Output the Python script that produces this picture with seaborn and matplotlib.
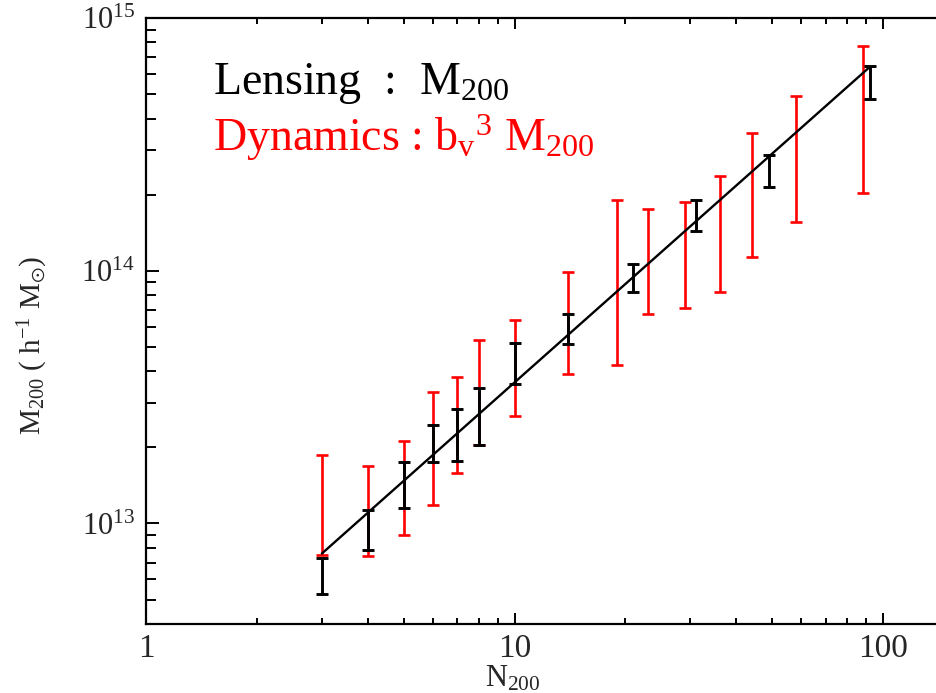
import numpy as np
import pandas as pd
import matplotlib
matplotlib.use("Agg")
import matplotlib.pyplot as plt
from matplotlib.ticker import FixedLocator, NullFormatter, FixedFormatter
import seaborn as sns

# Weak-lensing mass per richness bin (lower / upper ends of each error bar)
lens_n = [3, 4, 5, 6, 7, 8, 10, 14, 21, 31, 49, 92]
lens_lo = [5.25e12, 7.86e12, 1.15e13, 1.75e13, 1.76e13, 2.04e13,
           3.56e13, 5.12e13, 8.2e13, 1.44e14, 2.15e14, 4.77e14]
lens_hi = [7.33e12, 1.13e13, 1.75e13, 2.46e13, 2.83e13, 3.42e13,
           5.17e13, 6.77e13, 1.06e14, 1.90e14, 2.86e14, 6.47e14]

# Dynamical mass (b_v^3 M200) per richness bin
dyn_n = [3, 4, 5, 6, 7, 8, 10, 14, 19, 23, 29, 36, 44, 58, 88]
dyn_lo = [7.53e12, 7.44e12, 9.04e12, 1.18e13, 1.58e13, 2.04e13, 2.65e13,
          3.91e13, 4.23e13, 6.77e13, 7.15e13, 8.2e13, 1.13e14, 1.56e14, 2.03e14]
dyn_hi = [1.87e13, 1.69e13, 2.12e13, 3.31e13, 3.80e13, 5.32e13, 6.37e13,
          9.85e13, 1.90e14, 1.75e14, 1.87e14, 2.37e14, 3.51e14, 4.92e14, 7.76e14]

# Power-law fit to the lensing masses (end points)
fit_n = [3, 92]
fit_m = [7.6e12, 6.4e14]

x_ticks = [1, 10, 100]
x_tick_labels = ["1", "10", "100"]
y_ticks = [1e13, 1e14, 1e15]
y_tick_labels = [r"$10^{13}$", r"$10^{14}$", r"$10^{15}$"]

sns.set_theme(style="ticks")
plt.rcParams.update({
    "font.family": ["Liberation Serif", "DejaVu Serif"],
    "mathtext.fontset": "custom",
    "mathtext.rm": "Liberation Serif",
    "mathtext.it": "Liberation Serif",
    "mathtext.default": "regular",
    "axes.linewidth": 1.6,
    "axes.edgecolor": "black",
})

lens = pd.DataFrame({"N": lens_n, "lo": lens_lo, "hi": lens_hi})
dyn = pd.DataFrame({"N": dyn_n, "lo": dyn_lo, "hi": dyn_hi})
fit = pd.DataFrame({"N": fit_n, "M": fit_m})

fig = plt.figure(figsize=(9.37, 6.93), dpi=100)
ax = fig.add_axes([146 / 937, 1 - 624 / 693, 802 / 937, 606 / 693])
ax.set_xscale("log")
ax.set_yscale("log")

# dynamics error bars (red), then lensing (black), then the fit line
ax.errorbar(dyn["N"], dyn["lo"], yerr=[np.zeros(len(dyn)), dyn["hi"] - dyn["lo"]],
            fmt="none", ecolor="#ff0000", elinewidth=1.9, capsize=4.5, capthick=1.9,
            zorder=2)
ax.errorbar(lens["N"], lens["lo"], yerr=[np.zeros(len(lens)), lens["hi"] - lens["lo"]],
            fmt="none", ecolor="black", elinewidth=2.1, capsize=4.5, capthick=2.1,
            zorder=3)
sns.lineplot(data=fit, x="N", y="M", color="black", linewidth=1.7, ax=ax,
             zorder=4)

ax.set_xlim(1, 150)
ax.set_ylim(4e12, 1e15)

ax.xaxis.set_major_locator(FixedLocator(x_ticks))
ax.xaxis.set_major_formatter(FixedFormatter(x_tick_labels))
ax.xaxis.set_minor_locator(FixedLocator([2, 3, 4, 5, 6, 7, 8, 9,
                                         20, 30, 40, 50, 60, 70, 80, 90]))
ax.xaxis.set_minor_formatter(NullFormatter())
ax.yaxis.set_major_locator(FixedLocator(y_ticks))
ax.yaxis.set_major_formatter(FixedFormatter(y_tick_labels))
ax.yaxis.set_minor_locator(FixedLocator([m * 10.0 ** e for e in (12, 13, 14)
                                         for m in range(2, 10)]))
ax.yaxis.set_minor_formatter(NullFormatter())

ax.tick_params(which="both", direction="in", top=True, right=True,
               color="black", width=1.4)
ax.tick_params(axis="x", which="major", length=8, labelsize=24, pad=7)
ax.tick_params(axis="x", which="minor", length=4)
ax.tick_params(axis="y", which="major", length=9, labelsize=22, pad=8)
ax.tick_params(axis="y", which="minor", length=7)

ax.set_xlabel(r"N$_{200}$", fontsize=22)
ax.xaxis.set_label_coords((513 - 146) / 802, (624 - 664) / 606)
ax.set_ylabel(r"M$_{200}$ ( h$^{-1}$ M$_{\odot}$)", fontsize=21)
ax.yaxis.set_label_coords((50 - 146) / 802, (624 - 345) / 606)

ax.text((213 - 146) / 802, (624 - 94) / 606, r"Lensing  :  M$_{200}$",
        transform=ax.transAxes, fontsize=33, color="black", va="baseline")
ax.text((213 - 146) / 802, (624 - 151) / 606, r"Dynamics : b$_{v}$$^{3}$ M$_{200}$",
        transform=ax.transAxes, fontsize=33, color="#ff0000", va="baseline")

fig.savefig("out.png", dpi=100)
